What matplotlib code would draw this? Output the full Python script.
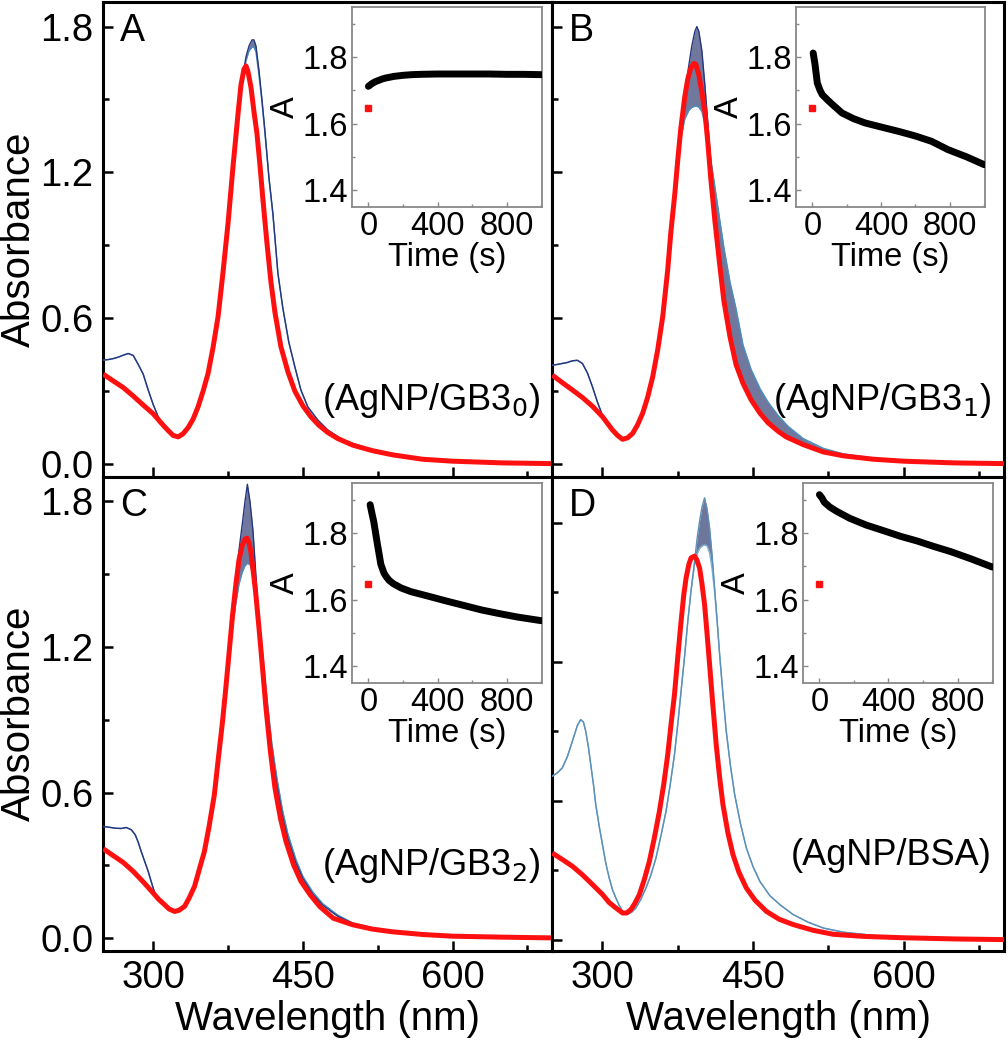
import numpy as np
import matplotlib
matplotlib.use("Agg")
import matplotlib.pyplot as plt
from matplotlib.ticker import FormatStrFormatter

plt.rcParams['font.family'] = ['Liberation Sans', 'DejaVu Sans']

# ---------------- data: main spectra ----------------
# Panel A
red_wl_A = [250, 260, 270, 280, 290, 300, 310, 315, 320, 325, 330, 335, 340, 345, 350, 355, 360, 365, 370, 375,
            380, 385, 388, 391, 393, 395, 398, 401, 404, 407, 410, 414, 418, 422, 428, 435, 442, 450, 458, 466,
            475, 485, 500, 520, 540, 570, 600, 650, 700]
red_A = [0.370, 0.342, 0.315, 0.280, 0.243, 0.207, 0.160, 0.138, 0.118, 0.112, 0.125, 0.150, 0.185, 0.236, 0.300,
         0.373, 0.480, 0.606, 0.790, 0.990, 1.224, 1.440, 1.560, 1.625, 1.638, 1.615, 1.550, 1.450, 1.360, 1.230,
         1.087, 0.910, 0.750, 0.625, 0.483, 0.380, 0.300, 0.240, 0.195, 0.160, 0.130, 0.105, 0.078, 0.055, 0.038,
         0.020, 0.012, 0.005, 0.002]
band_wl_A = [250, 255, 260, 265, 270, 275, 280, 285, 290, 295, 300, 305, 310, 315, 320, 325, 330, 340, 350, 360,
             370, 380, 385, 390, 393, 396, 399, 401, 403, 406, 409, 412, 416, 420, 425, 430, 436, 442, 448, 455,
             465, 475, 490, 510, 530, 560, 600, 650, 700]
first_A = [0.428, 0.430, 0.434, 0.440, 0.448, 0.455, 0.447, 0.410, 0.370, 0.305, 0.245, 0.195, 0.162, 0.138, 0.118,
           0.112, 0.125, 0.185, 0.300, 0.480, 0.790, 1.224, 1.440, 1.600, 1.675, 1.720, 1.745, 1.745, 1.720, 1.620,
           1.500, 1.370, 1.180, 1.030, 0.785, 0.640, 0.500, 0.400, 0.305, 0.235, 0.181, 0.140, 0.100, 0.070, 0.050,
           0.028, 0.014, 0.006, 0.003]
last_A = [0.428, 0.430, 0.434, 0.440, 0.448, 0.455, 0.447, 0.410, 0.370, 0.305, 0.245, 0.195, 0.162, 0.138, 0.118,
          0.112, 0.125, 0.185, 0.300, 0.480, 0.790, 1.224, 1.440, 1.590, 1.660, 1.700, 1.715, 1.715, 1.695, 1.600,
          1.490, 1.360, 1.175, 1.025, 0.785, 0.640, 0.500, 0.400, 0.305, 0.235, 0.181, 0.140, 0.100, 0.070, 0.050,
          0.028, 0.014, 0.006, 0.003]

# Panel B
red_wl_B = [250, 260, 270, 280, 290, 300, 310, 315, 320, 325, 330, 335, 340, 345, 350, 355, 360, 365, 368, 372,
            375, 378, 382, 385, 388, 391, 393, 396, 399, 402, 405, 408, 412, 417, 421, 427, 433, 440, 448, 457,
            465, 475, 483, 500, 520, 540, 570, 600, 650, 700]
red_B = [0.366, 0.335, 0.305, 0.274, 0.238, 0.195, 0.140, 0.118, 0.102, 0.108, 0.126, 0.162, 0.209, 0.275, 0.359,
         0.470, 0.606, 0.800, 0.949, 1.110, 1.251, 1.380, 1.512, 1.585, 1.630, 1.648, 1.645, 1.600, 1.530, 1.450,
         1.320, 1.170, 1.000, 0.812, 0.670, 0.524, 0.410, 0.332, 0.265, 0.209, 0.170, 0.135, 0.112, 0.080, 0.050,
         0.034, 0.020, 0.012, 0.005, 0.002]
band_wl_B = [250, 255, 260, 265, 270, 275, 280, 285, 290, 295, 300, 305, 310, 315, 320, 325, 330, 335, 340, 345,
             350, 355, 360, 365, 368, 372, 375, 378, 382, 386, 389, 392, 394, 396, 399, 402, 405, 408, 412, 417,
             421, 427, 433, 440, 448, 457, 465, 475, 485, 500, 520, 540, 570, 600, 650, 700]
first_B = [0.407, 0.410, 0.414, 0.418, 0.425, 0.427, 0.414, 0.375, 0.318, 0.255, 0.200, 0.165, 0.140, 0.118, 0.102,
           0.108, 0.126, 0.162, 0.209, 0.275, 0.359, 0.470, 0.606, 0.800, 0.949, 1.110, 1.251, 1.380, 1.520, 1.640,
           1.720, 1.780, 1.800, 1.780, 1.700, 1.560, 1.400, 1.240, 1.050, 0.850, 0.710, 0.550, 0.430, 0.345, 0.275,
           0.215, 0.175, 0.140, 0.115, 0.085, 0.055, 0.036, 0.021, 0.013, 0.006, 0.003]
last_B = [0.407, 0.410, 0.414, 0.418, 0.425, 0.427, 0.414, 0.375, 0.318, 0.255, 0.200, 0.165, 0.140, 0.118, 0.102,
          0.108, 0.126, 0.162, 0.209, 0.275, 0.359, 0.470, 0.606, 0.800, 0.949, 1.110, 1.240, 1.340, 1.420, 1.455,
          1.468, 1.472, 1.472, 1.468, 1.450, 1.400, 1.330, 1.250, 1.140, 1.000, 0.890, 0.750, 0.640, 0.490, 0.390,
          0.310, 0.255, 0.200, 0.155, 0.105, 0.065, 0.042, 0.024, 0.014, 0.006, 0.003]

# Panel C
red_wl_C = [250, 260, 270, 280, 290, 300, 305, 311.6, 316, 321.5, 326, 331.5, 336, 341.4, 346, 351.3, 356, 361.3,
            365, 369.5, 373, 376.2, 379.5, 382.8, 386, 389.4, 392, 394, 396, 398, 400, 402.6, 406, 409.3, 413,
            417.5, 422, 427.5, 433, 440.7, 448, 457.3, 467, 480.5, 500, 520, 540, 570, 600, 650, 700]
red_C = [0.368, 0.340, 0.312, 0.275, 0.232, 0.186, 0.162, 0.137, 0.120, 0.110, 0.115, 0.131, 0.165, 0.213, 0.280,
         0.357, 0.460, 0.591, 0.730, 0.893, 1.040, 1.182, 1.330, 1.456, 1.560, 1.621, 1.645, 1.649, 1.630, 1.590,
         1.520, 1.429, 1.280, 1.127, 0.950, 0.769, 0.620, 0.495, 0.400, 0.302, 0.235, 0.179, 0.130, 0.082, 0.055,
         0.037, 0.026, 0.015, 0.008, 0.004, 0.001]
band_wl_C = [250, 256, 262, 268, 273, 278, 282, 285, 288, 292, 295, 300, 303, 308, 312, 316, 321.5, 326, 331.5,
             336, 341.4, 346, 351.3, 356, 361.3, 365, 369.5, 373, 376.2, 379.5, 382.8, 386, 389.4, 392, 394.4, 397,
             400, 404, 407, 410.5, 414, 419, 424, 429.5, 435, 443, 450, 460, 470, 485, 500, 520, 540, 570, 600,
             650, 700]
first_C = [0.460, 0.457, 0.453, 0.452, 0.456, 0.447, 0.426, 0.395, 0.357, 0.310, 0.275, 0.206, 0.172, 0.150, 0.136,
           0.120, 0.110, 0.115, 0.131, 0.165, 0.213, 0.280, 0.357, 0.460, 0.591, 0.730, 0.893, 1.040, 1.182, 1.330,
           1.470, 1.600, 1.710, 1.800, 1.871, 1.800, 1.680, 1.430, 1.270, 1.110, 0.950, 0.770, 0.630, 0.505, 0.410,
           0.310, 0.245, 0.180, 0.135, 0.090, 0.060, 0.040, 0.028, 0.016, 0.009, 0.004, 0.001]
last_C = [0.460, 0.457, 0.453, 0.452, 0.456, 0.447, 0.426, 0.395, 0.357, 0.310, 0.275, 0.206, 0.172, 0.150, 0.136,
          0.120, 0.110, 0.115, 0.131, 0.165, 0.213, 0.280, 0.357, 0.460, 0.591, 0.730, 0.893, 1.040, 1.150, 1.280,
          1.380, 1.460, 1.510, 1.535, 1.545, 1.540, 1.500, 1.400, 1.280, 1.140, 0.990, 0.800, 0.660, 0.530, 0.430,
          0.325, 0.255, 0.190, 0.142, 0.095, 0.063, 0.042, 0.029, 0.017, 0.009, 0.004, 0.001]

# Panel D
red_wl_D = [250, 260, 270, 280, 290, 300, 306.7, 313.3, 320, 324, 328.3, 332, 336.7, 341.7, 346.7, 351.7, 356.7,
            361, 365, 368.3, 371.7, 375, 378.3, 381, 383.3, 386, 388.3, 391.7, 394, 396.7, 399, 401.7, 404, 406.7,
            410, 413.3, 416.7, 420, 425, 430, 436, 443.3, 452, 463.3, 476, 490, 510, 530, 560, 600, 650, 700]
red_D = [0.374, 0.346, 0.317, 0.280, 0.238, 0.195, 0.160, 0.137, 0.115, 0.115, 0.130, 0.155, 0.194, 0.260, 0.338,
         0.440, 0.554, 0.670, 0.799, 0.930, 1.058, 1.220, 1.375, 1.490, 1.562, 1.620, 1.649, 1.656, 1.640, 1.605,
         1.540, 1.447, 1.330, 1.188, 1.010, 0.842, 0.700, 0.583, 0.460, 0.367, 0.290, 0.223, 0.170, 0.122, 0.088,
         0.065, 0.040, 0.023, 0.014, 0.008, 0.003, 0.000]
band_wl_D = [250, 255, 260, 265, 270, 275, 278.3, 281, 283.3, 286, 288.3, 291, 293.3, 296.7, 300, 303.3, 306.7, 310,
             313.3, 316.7, 320, 325, 329, 333.3, 338.3, 343.3, 348.3, 353.3, 358.3, 363.3, 367.5, 371.7, 375, 378.3,
             381.7, 385, 388.3, 391.7, 394.2, 396.7, 399.2, 401.7, 404.2, 406.7, 409.2, 411.7, 414.2, 416.7, 420,
             423.3, 427.5, 431.7, 437.5, 443.3, 450, 456.7, 466.7, 476.7, 490, 505, 520, 540, 570, 600, 650, 700]
first_D = [0.706, 0.720, 0.742, 0.790, 0.857, 0.925, 0.950, 0.940, 0.900, 0.830, 0.756, 0.670, 0.583, 0.490, 0.410,
           0.330, 0.266, 0.215, 0.180, 0.148, 0.122, 0.110, 0.118, 0.137, 0.175, 0.223, 0.280, 0.353, 0.450, 0.554,
           0.670, 0.799, 0.930, 1.073, 1.220, 1.375, 1.510, 1.634, 1.730, 1.807, 1.870, 1.908, 1.860, 1.778, 1.660,
           1.519, 1.380, 1.231, 1.060, 0.900, 0.750, 0.626, 0.500, 0.396, 0.315, 0.252, 0.190, 0.151, 0.108, 0.075,
           0.050, 0.032, 0.018, 0.010, 0.004, 0.001]
last_D = [0.706, 0.720, 0.742, 0.790, 0.857, 0.925, 0.950, 0.940, 0.900, 0.830, 0.756, 0.670, 0.583, 0.490, 0.410,
          0.330, 0.266, 0.215, 0.180, 0.148, 0.122, 0.110, 0.118, 0.137, 0.175, 0.223, 0.280, 0.353, 0.450, 0.554,
          0.670, 0.799, 0.930, 1.073, 1.220, 1.375, 1.510, 1.620, 1.665, 1.690, 1.700, 1.705, 1.700, 1.670, 1.600,
          1.500, 1.370, 1.231, 1.060, 0.900, 0.750, 0.626, 0.500, 0.396, 0.315, 0.252, 0.190, 0.151, 0.108, 0.075,
          0.050, 0.032, 0.018, 0.010, 0.004, 0.001]

# ---------------- data: insets (absorbance at peak vs time) ----------------
t_A = [0, 10, 20, 40, 60, 80, 100, 150, 200, 250, 300, 400, 500, 600, 700, 800, 900, 1000]
kin_A = [1.712, 1.716, 1.720, 1.726, 1.730, 1.734, 1.737, 1.742, 1.745, 1.747, 1.748, 1.749, 1.749, 1.749, 1.749,
         1.748, 1.748, 1.747]
t_B = [5, 15, 29, 45, 58, 87, 116, 173, 240, 308, 400, 501, 600, 694, 790, 900, 1000]
kin_B = [1.812, 1.780, 1.722, 1.700, 1.687, 1.672, 1.658, 1.632, 1.615, 1.602, 1.590, 1.577, 1.563, 1.547, 1.522,
         1.500, 1.477]
t_C = [10, 20, 31, 51, 72, 90, 103, 120, 144, 190, 246, 350, 451, 550, 656, 760, 862, 1000]
kin_C = [1.885, 1.860, 1.834, 1.770, 1.706, 1.680, 1.669, 1.658, 1.648, 1.635, 1.624, 1.610, 1.596, 1.583, 1.569,
         1.558, 1.548, 1.537]
t_D = [0, 15, 29, 60, 100, 176, 270, 371, 470, 566, 660, 761, 880, 1000]
kin_D = [1.915, 1.905, 1.892, 1.878, 1.865, 1.844, 1.824, 1.807, 1.790, 1.776, 1.760, 1.744, 1.722, 1.698]
t0_ref = 0
a0_ref = 1.647

panel_letters = ["A", "B", "C", "D"]
panel_notes = [r"(AgNP/GB3$_0$)", r"(AgNP/GB3$_1$)", r"(AgNP/GB3$_2$)", "(AgNP/BSA)"]
x_major = [300, 450, 600]
x_minor = [375, 525, 675]
y_major = [0.0, 0.6, 1.2, 1.8]
y_minor = [0.3, 0.9, 1.5]

# ---------------- layout ----------------
W, H = 1008, 1050
fig = plt.figure(figsize=(W / 100, H / 100), dpi=100)


def px(x0, y0, x1, y1):
    return [x0 / W, 1 - y1 / H, (x1 - x0) / W, (y1 - y0) / H]


RED = "#ff1010"

panels = [
    dict(rect=px(103.3, 1.5, 552.3, 476.5), ylim=(-0.051, 1.903), xl=False, yl=True,
         red=(red_wl_A, red_A), band=(band_wl_A, first_A, last_A), kin=(t_A, kin_A),
         inset=px(352, 7, 542, 207), note_y=0.16,
         cols=("#606a92", "#27357e", "#4a8fbf")),
    dict(rect=px(552.3, 1.5, 1004, 476.5), ylim=(-0.051, 1.903), xl=False, yl=False,
         red=(red_wl_B, red_B), band=(band_wl_B, first_B, last_B), kin=(t_B, kin_B),
         inset=px(796, 7, 985, 207), note_y=0.16,
         cols=("#606a92", "#27357e", "#4a8fbf")),
    dict(rect=px(103.3, 476.5, 552.3, 950.5), ylim=(-0.051, 1.903), xl=True, yl=True,
         red=(red_wl_C, red_C), band=(band_wl_C, first_C, last_C), kin=(t_C, kin_C),
         inset=px(352, 483, 542, 683), note_y=0.18,
         cols=("#606a92", "#27357e", "#4a8fbf")),
    dict(rect=px(552.3, 476.5, 1004, 950.5), ylim=(-0.047, 2.0), xl=True, yl=False,
         red=(red_wl_D, red_D), band=(band_wl_D, first_D, last_D), kin=(t_D, kin_D),
         inset=px(803, 483, 993, 683), note_y=0.20,
         cols=("#5d6790", "#5b8fb8", "#7db3d3")),
]

for i, p in enumerate(panels):
    ax = fig.add_axes(p["rect"])
    band_c, c1, c2 = p["cols"]
    wl, f, l = p["band"]
    f = np.array(f)
    l = np.array(l)
    ax.fill_between(wl, np.minimum(f, l), np.maximum(f, l), color=band_c, lw=0, alpha=0.9, zorder=2)
    ax.plot(wl, l, color=c2, lw=1.0, zorder=3)
    ax.plot(wl, f, color=c1, lw=1.0, zorder=3)
    ax.plot(p["red"][0], p["red"][1], color=RED, lw=3.6, zorder=4, solid_capstyle="butt")

    ax.set_xlim(250, 700)
    ax.set_ylim(*p["ylim"])
    ax.set_xticks(x_major)
    ax.set_xticks(x_minor, minor=True)
    ax.set_yticks(y_major)
    ax.set_yticks(y_minor, minor=True)
    ax.yaxis.set_major_formatter(FormatStrFormatter("%.1f"))
    ax.tick_params(which="both", direction="in", top=False, right=False, width=1.8, colors="black")
    ax.tick_params(which="major", length=7, labelsize=27.5, pad=7)
    ax.tick_params(which="minor", length=4.5)
    ax.tick_params(labelbottom=p["xl"], labelleft=p["yl"])
    for s in ax.spines.values():
        s.set_linewidth(2.2)
    if p["yl"]:
        ax.set_ylabel("Absorbance", fontsize=29, labelpad=2)
    if p["xl"]:
        ax.set_xlabel("Wavelength (nm)", fontsize=29, labelpad=3)

    ax.text(0.037, 0.975, panel_letters[i], transform=ax.transAxes, fontsize=27, ha="left", va="top")
    ax.text(0.972, p["note_y"], panel_notes[i], transform=ax.transAxes, fontsize=26, ha="right", va="center")

    # inset
    ai = fig.add_axes(p["inset"])
    ai.plot(p["kin"][0], p["kin"][1], color="black", lw=5, solid_capstyle="round", zorder=3)
    ai.plot([t0_ref], [a0_ref], marker="s", ms=5, color=RED, ls="none", zorder=4)
    ai.set_xlim(-95, 1005)
    ai.set_ylim(1.35, 1.95)
    ai.set_xticks([0, 400, 800])
    ai.set_xticks([200, 600, 1000], minor=True)
    ai.set_yticks([1.4, 1.6, 1.8])
    ai.set_yticks([1.5, 1.7, 1.9], minor=True)
    ai.yaxis.set_major_formatter(FormatStrFormatter("%.1f"))
    ai.tick_params(which="both", direction="in", color="#888888", width=1.0, labelsize=23.5)
    ai.tick_params(which="major", length=3.5, pad=3)
    ai.tick_params(which="minor", length=2.5)
    for s in ai.spines.values():
        s.set_color("#888888")
        s.set_linewidth(1.3)
    ai.set_xlabel("Time (s)", fontsize=23.5, labelpad=0)
    ai.set_ylabel("A", fontsize=23.5, labelpad=1)

fig.savefig("out.png", dpi=100)
